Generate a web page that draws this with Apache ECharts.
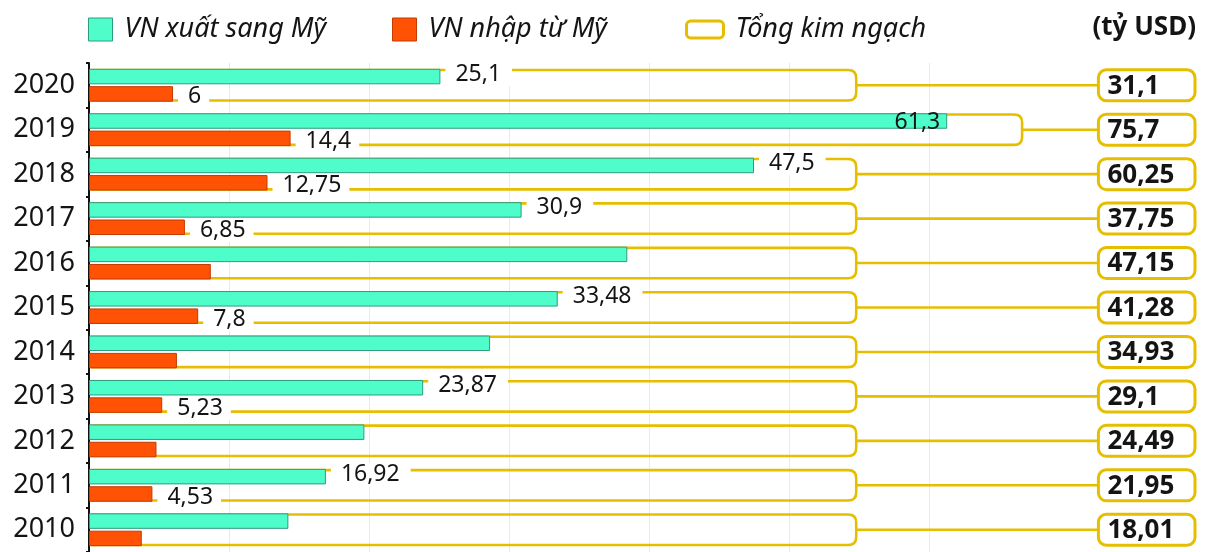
<!DOCTYPE html>
<html>
<head>
<meta charset="utf-8">
<script src="https://cdn.jsdelivr.net/npm/echarts@6/dist/echarts.min.js"></script>
<style>
html,body{margin:0;padding:0;background:#fff;}
#chart{width:1230px;height:552px;}
</style>
</head>
<body>
<div id="chart"></div>
<script>
const years = ['2020','2019','2018','2017','2016','2015','2014','2013','2012','2011','2010'];
const exportsToUS = [25.1, 61.3, 47.5, 30.9, 38.45, 33.48, 28.65, 23.87, 19.67, 16.92, 14.24];
const importsFromUS = [6, 14.4, 12.75, 6.85, 8.7, 7.8, 6.28, 5.23, 4.82, 4.53, 3.77];
const totals = [31.1, 75.7, 60.25, 37.75, 47.15, 41.28, 34.93, 29.1, 24.49, 21.95, 18.01];
const exportLabelShown = [true, true, true, true, false, true, false, true, false, true, false];
const importLabelShown = [true, true, true, true, false, true, false, true, false, true, false];
const gridValues = [10, 20, 30, 40, 50, 60];
const seriesNames = ['VN xuất sang Mỹ', 'VN nhập từ Mỹ', 'Tổng kim ngạch'];
const unitText = '(tỷ USD)';

const FONT = "'Noto Sans', 'Open Sans', sans-serif";
const TEAL = '#4ffdca', TEAL_B = '#2e9c7f';
const ORANGE = '#ff5205', ORANGE_B = '#c23b00';
const GOLD = '#e6be00';
const TXT = '#141414';
const fmt = v => String(v).replace('.', ',');

const BAR_W = 15.5;
const chart = echarts.init(document.getElementById('chart'), null, {renderer: 'canvas'});

function barLabel(show, isExport, inside) {
  return {
    show: show,
    position: inside ? 'insideRight' : 'right',
    distance: inside ? 7 : 5,
    formatter: p => fmt(p.value),
    fontFamily: FONT,
    fontSize: 23,
    color: TXT,
    backgroundColor: inside ? 'transparent' : '#fff',
    padding: inside ? 0 : (isExport ? [1, 11, 0, 10] : [0, 8, 1, 10]),
    offset: inside ? [0, 1] : [0, isExport ? -2 : 3]
  };
}

const exportData = exportsToUS.map((v, i) => ({
  value: v,
  label: barLabel(exportLabelShown[i], true, v > 55)
}));
const importData = importsFromUS.map((v, i) => ({
  value: v,
  label: barLabel(importLabelShown[i], false, false)
}));
const totalData = totals.map((t, i) => [i, t, exportsToUS[i]]);

const legendText = {fontFamily: FONT, fontSize: 27, fontStyle: 'italic', color: TXT, padding: [0, 0, 0, 7]};

const option = {
  animation: false,
  backgroundColor: '#fff',
  textStyle: {fontFamily: FONT},
  title: {
    text: unitText, right: 34, top: 15, padding: 0,
    textStyle: {fontFamily: FONT, fontSize: 26, fontWeight: 'bold', color: TXT}
  },
  legend: [
    {left: 88, top: 16, padding: 0, itemWidth: 24, itemHeight: 23, textStyle: legendText,
     data: [{name: seriesNames[0], icon: 'rect', itemStyle: {color: TEAL, borderColor: TEAL_B, borderWidth: 1}}]},
    {left: 392, top: 16, padding: 0, itemWidth: 24, itemHeight: 23, textStyle: legendText,
     data: [{name: seriesNames[1], icon: 'rect', itemStyle: {color: ORANGE, borderColor: ORANGE_B, borderWidth: 1}}]},
    {left: 685, top: 16, padding: 0, itemWidth: 37, itemHeight: 17, textStyle: legendText,
     data: [{name: seriesNames[2], icon: 'roundRect', itemStyle: {color: '#fff', borderColor: GOLD, borderWidth: 3}}]}
  ],
  grid: {left: 89, right: 21, top: 63, bottom: 0, containLabel: false},
  xAxis: {
    type: 'value', min: 0, max: 80,
    axisLine: {show: false}, axisTick: {show: false}, axisLabel: {show: false}, splitLine: {show: false}
  },
  yAxis: {
    type: 'category', data: years, inverse: true,
    axisLine: {show: true, lineStyle: {color: '#111', width: 2}},
    axisTick: {show: true, length: 3, lineStyle: {color: '#111', width: 2}},
    axisLabel: {fontFamily: FONT, fontSize: 27, color: TXT, margin: 14}
  },
  series: [
    {
      name: seriesNames[2],
      type: 'custom',
      z: 1,
      clip: false,
      itemStyle: {color: GOLD},
      data: totalData,
      markLine: {
        silent: true, z: 0, symbol: ['none', 'none'], label: {show: false},
        lineStyle: {color: '#e2ebee', width: 1, type: 'solid'},
        data: gridValues.map(v => ({xAxis: v}))
      },
      renderItem: function (params, api) {
        const i = api.value(0);
        const total = api.value(1);
        const exp = api.value(2);
        const c = api.coord([0, i]);
        const x0 = c[0] + 2;
        const cy = c[1];
        const h = 15.2;
        const r = 8;
        const rightVal = Math.max(54.8, exp + 5.35);
        const x1 = api.coord([rightVal, i])[0];
        const bx0 = api.coord([72.1, i])[0];
        const bx1 = api.coord([79, i])[0];
        const bh = 15.5;
        const top = cy - h, bot = cy + h;
        const path = 'M' + x0 + ' ' + top + ' L' + (x1 - r) + ' ' + top +
          ' Q' + x1 + ' ' + top + ' ' + x1 + ' ' + (top + r) +
          ' L' + x1 + ' ' + (bot - r) +
          ' Q' + x1 + ' ' + bot + ' ' + (x1 - r) + ' ' + bot +
          ' L' + x0 + ' ' + bot;
        return {
          type: 'group',
          children: [
            {type: 'path', shape: {pathData: path}, style: {fill: 'none', stroke: GOLD, lineWidth: 2.6}},
            {type: 'line', shape: {x1: x1, y1: cy, x2: bx0, y2: cy}, style: {stroke: GOLD, lineWidth: 2.6}},
            {type: 'rect', shape: {x: bx0, y: cy - bh, width: bx1 - bx0, height: bh * 2, r: 8},
             style: {fill: '#fff', stroke: GOLD, lineWidth: 3}},
            {type: 'text', x: bx0 + 9, y: cy + 1,
             style: {text: fmt(total), fill: TXT, font: 'bold 26px ' + FONT, verticalAlign: 'middle', align: 'left'}}
          ]
        };
      }
    },
    {
      name: seriesNames[0],
      type: 'bar',
      z: 2,
      barWidth: BAR_W,
      barGap: '12%',
      itemStyle: {color: TEAL, borderColor: TEAL_B, borderWidth: 1},
      data: exportData
    },
    {
      name: seriesNames[1],
      type: 'bar',
      z: 2,
      barWidth: BAR_W,
      barGap: '12%',
      itemStyle: {color: ORANGE, borderColor: ORANGE_B, borderWidth: 1},
      data: importData
    }
  ]
};
chart.setOption(option);
</script>
</body>
</html>
